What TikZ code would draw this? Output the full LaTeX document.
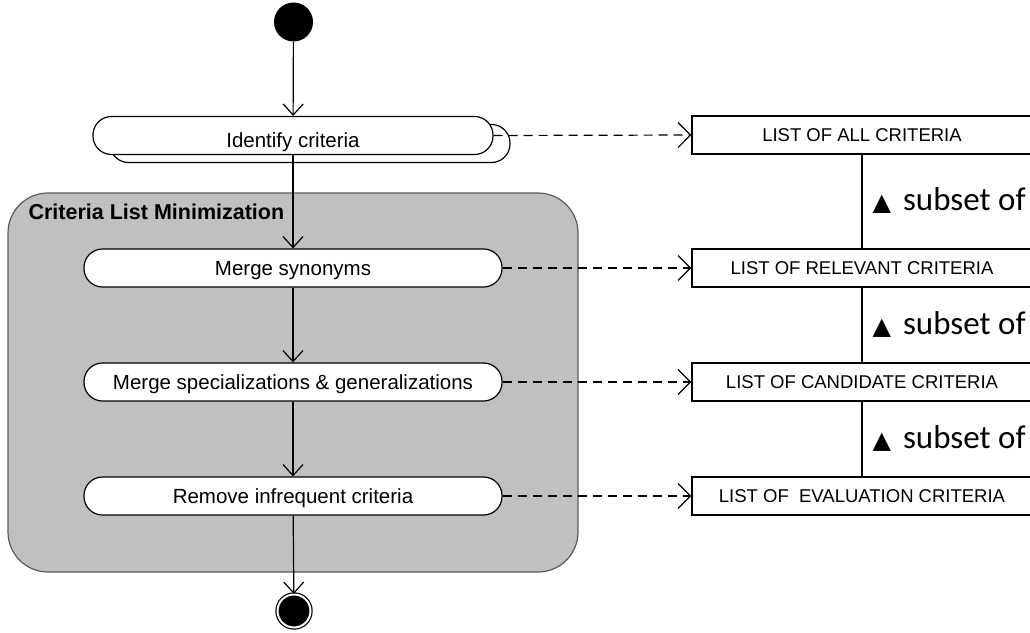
\documentclass[tikz,border=0pt]{standalone}
\usepackage{fontspec}
\setmainfont{Liberation Sans}
\newfontfamily\subfont{Carlito}
\newfontfamily\trifont{DejaVu Sans}
\usetikzlibrary{arrows.meta}
\definecolor{regionfill}{RGB}{192,192,192}
\definecolor{regionline}{RGB}{90,90,90}
\newcommand{\subsetlabel}{{\trifont\fontsize{24}{28}\selectfont ▲}\hspace{12pt}{\subfont\fontsize{33}{38}\selectfont subset of}}
\begin{document}
\begin{tikzpicture}[x=1pt,y=-1pt,line width=1.2pt,
  activity/.style={draw,fill=white,rounded corners=18.5pt,minimum height=38pt,
    inner sep=0pt,text height=14.7pt,text depth=0pt,font=\fontsize{20.5}{24}\selectfont},
  artifact/.style={draw,fill=white,minimum width=340pt,minimum height=38pt,
    inner sep=0pt,text height=13.3pt,text depth=0pt,font=\fontsize{18.5}{22}\selectfont},
  flow/.style={-{Straight Barb[length=11pt,width=20pt]}},
  produces/.style={dashed,dash pattern=on 9pt off 6pt,
    -{Straight Barb[length=12.5pt,width=25pt]}},
  sublabel/.style={anchor=base west,inner sep=0pt,xshift=10pt,yshift=-9pt}]
  \useasboundingbox (0,0) rectangle (1030,632);

  % region of the minimization sub-activities
  \draw[fill=regionfill,draw=regionline,rounded corners=40pt] (8,193) rectangle (578,572);
  \node[anchor=west,inner sep=0pt,font=\bfseries\fontsize{21.5}{26}\selectfont]
    (regiontitle) at (28,212) {Criteria List Minimization};

  % initial and final states
  \node[circle,fill=black,minimum size=39pt,inner sep=0pt] (start) at (293.5,22) {};
  \node[circle,draw,fill=black,double,double distance=2pt,minimum size=33pt,inner sep=0pt]
    (end) at (294,611) {};

  % activities
  \node[activity,minimum width=400pt] (identshadow) at (310,143.5) {};
  \node[activity,minimum width=400pt,text height=24.7pt] (identify) at (293,135.5) {Identify criteria};
  \node[activity,minimum width=418pt] (merge) at (293,268) {Merge synonyms};
  \node[activity,minimum width=418pt] (spec) at (293,382) {Merge specializations \& generalizations};
  \node[activity,minimum width=418pt] (remove) at (293,496) {Remove infrequent criteria};

  % resulting criteria lists
  \node[artifact] (all) at (862,135) {LIST OF ALL CRITERIA};
  \node[artifact] (relevant) at (862,268) {LIST OF RELEVANT CRITERIA};
  \node[artifact] (candidate) at (862,382) {LIST OF CANDIDATE CRITERIA};
  \node[artifact] (evaluation) at (862,496) {LIST OF\ \ EVALUATION CRITERIA};

  % control flow
  \draw[flow] (start) -- (identify);
  \draw[flow] (identify) -- (merge);
  \draw[flow] (merge) -- (spec);
  \draw[flow] (spec) -- (remove);
  \draw[flow] (remove) -- (end);

  % outputs of each activity
  \draw[produces] (identify.east) -- (all.west);
  \draw[produces] (merge.east) -- (relevant.west);
  \draw[produces] (spec.east) -- (candidate.west);
  \draw[produces] (remove.east) -- (evaluation.west);

  % subset relations between the lists
  \draw (all.south) -- node[sublabel] (sub1) {\subsetlabel} (relevant.north);
  \draw (relevant.south) -- node[sublabel] (sub2) {\subsetlabel} (candidate.north);
  \draw (candidate.south) -- node[sublabel] (sub3) {\subsetlabel} (evaluation.north);
\end{tikzpicture}
\end{document}
